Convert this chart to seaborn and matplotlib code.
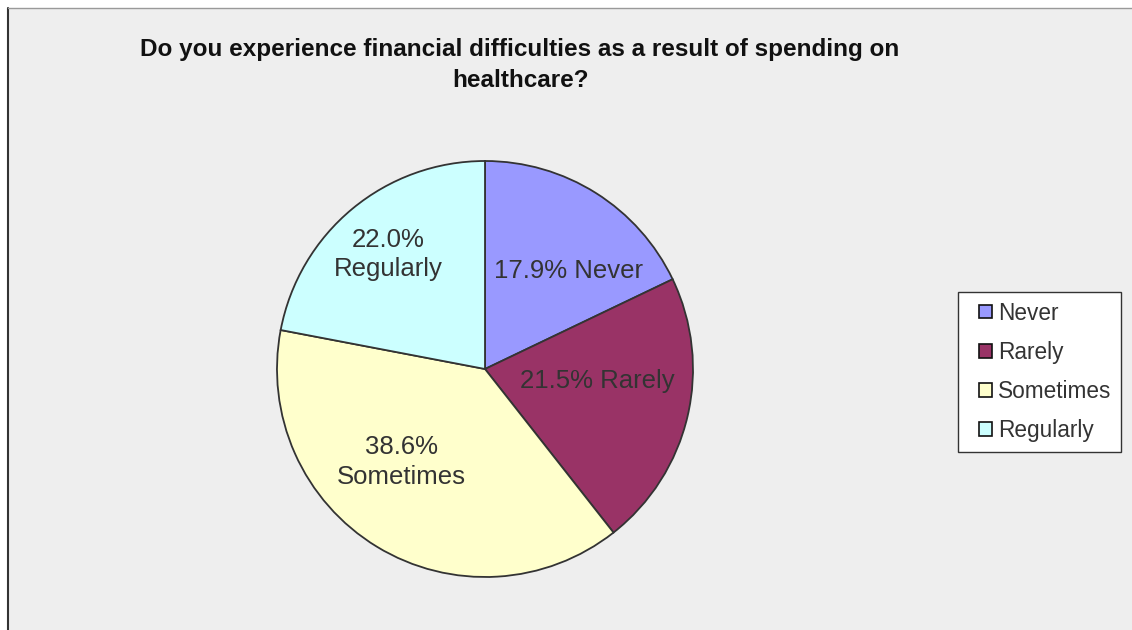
import numpy as np
import seaborn as sns
import matplotlib.pyplot as plt
from matplotlib.patches import Rectangle, Patch
from matplotlib.legend_handler import HandlerPatch

# data
categories = ["Never", "Rarely", "Sometimes", "Regularly"]
shares = [17.9, 21.5, 38.6, 22.0]
colors = ["#9999FF", "#993366", "#FFFFCC", "#CCFFFF"]
title = "Do you experience financial difficulties as a result of spending on\nhealthcare?"

sns.set_theme(style="white")
plt.rcParams["font.family"] = ["Liberation Sans", "DejaVu Sans"]

W, H = 1132, 630
fig = plt.figure(figsize=(W / 100, H / 100), dpi=100)
fig.patch.set_facecolor("white")

# chart area background + borders
fig.patches.append(Rectangle((8 / W, 0), 1 - 8 / W, 1 - 8 / H, transform=fig.transFigure,
                             facecolor="#EEEEEE", edgecolor="none", zorder=-10))
fig.add_artist(plt.Line2D([8 / W, 8 / W], [0, 1 - 8 / H], color="#333333", lw=1.5))
fig.add_artist(plt.Line2D([8 / W, 1], [1 - 8 / H, 1 - 8 / H], color="#999999", lw=1))

# pie axes: centre (485, 369), radius 208 px
cx, cy, r = 485, 369, 208
ax = fig.add_axes([(cx - r) / W, (H - cy - r) / H, 2 * r / W, 2 * r / H])
ax.set_facecolor("none")
ax.set_zorder(5)
wedges, _ = ax.pie(shares, colors=colors, startangle=90, counterclock=False,
                   wedgeprops=dict(edgecolor="#333333", linewidth=1.3))
ax.set_xlim(-1, 1)
ax.set_ylim(-1, 1)

labels = ["17.9% Never", "21.5% Rarely", "38.6%\nSometimes", "22.0%\nRegularly"]
label_pos = [(0.40, 0.47), (0.538, -0.06), (-0.40, -0.447), (-0.466, 0.55)]
for txt, (lx, ly) in zip(labels, label_pos):
    ax.text(lx, ly, txt, ha="center", va="center", fontsize=18.5, color="#333333",
            linespacing=1.3)

fig.text(520 / W, 1 - 65 / H, title, ha="center", va="center", fontsize=17.5,
         fontweight="bold", color="#111111", linespacing=1.45)


# small square marker sitting at the right end of the handle box
def square_marker(legend, orig_handle, xdescent, ydescent, width, height, fontsize):
    s = 10
    return Rectangle((width - s - xdescent, (height - s) / 2 - ydescent), s, s)


handles = [Patch(facecolor=c, edgecolor="#111111", linewidth=1.2) for c in colors]
leg = fig.legend(handles, categories, loc="upper left",
                 bbox_to_anchor=(958 / W, 1 - 292 / H), frameon=True, fancybox=False,
                 framealpha=1, fontsize=16.3, handlelength=1.1, handleheight=0.5,
                 handletextpad=0.25, labelspacing=0.72, borderpad=0.42,
                 borderaxespad=0,
                 handler_map={Patch: HandlerPatch(patch_func=square_marker)})
leg.get_frame().set_edgecolor("#333333")
leg.get_frame().set_linewidth(1)
leg.get_frame().set_facecolor("white")
for t in leg.get_texts():
    t.set_color("#333333")

fig.savefig("out.png", dpi=100)
